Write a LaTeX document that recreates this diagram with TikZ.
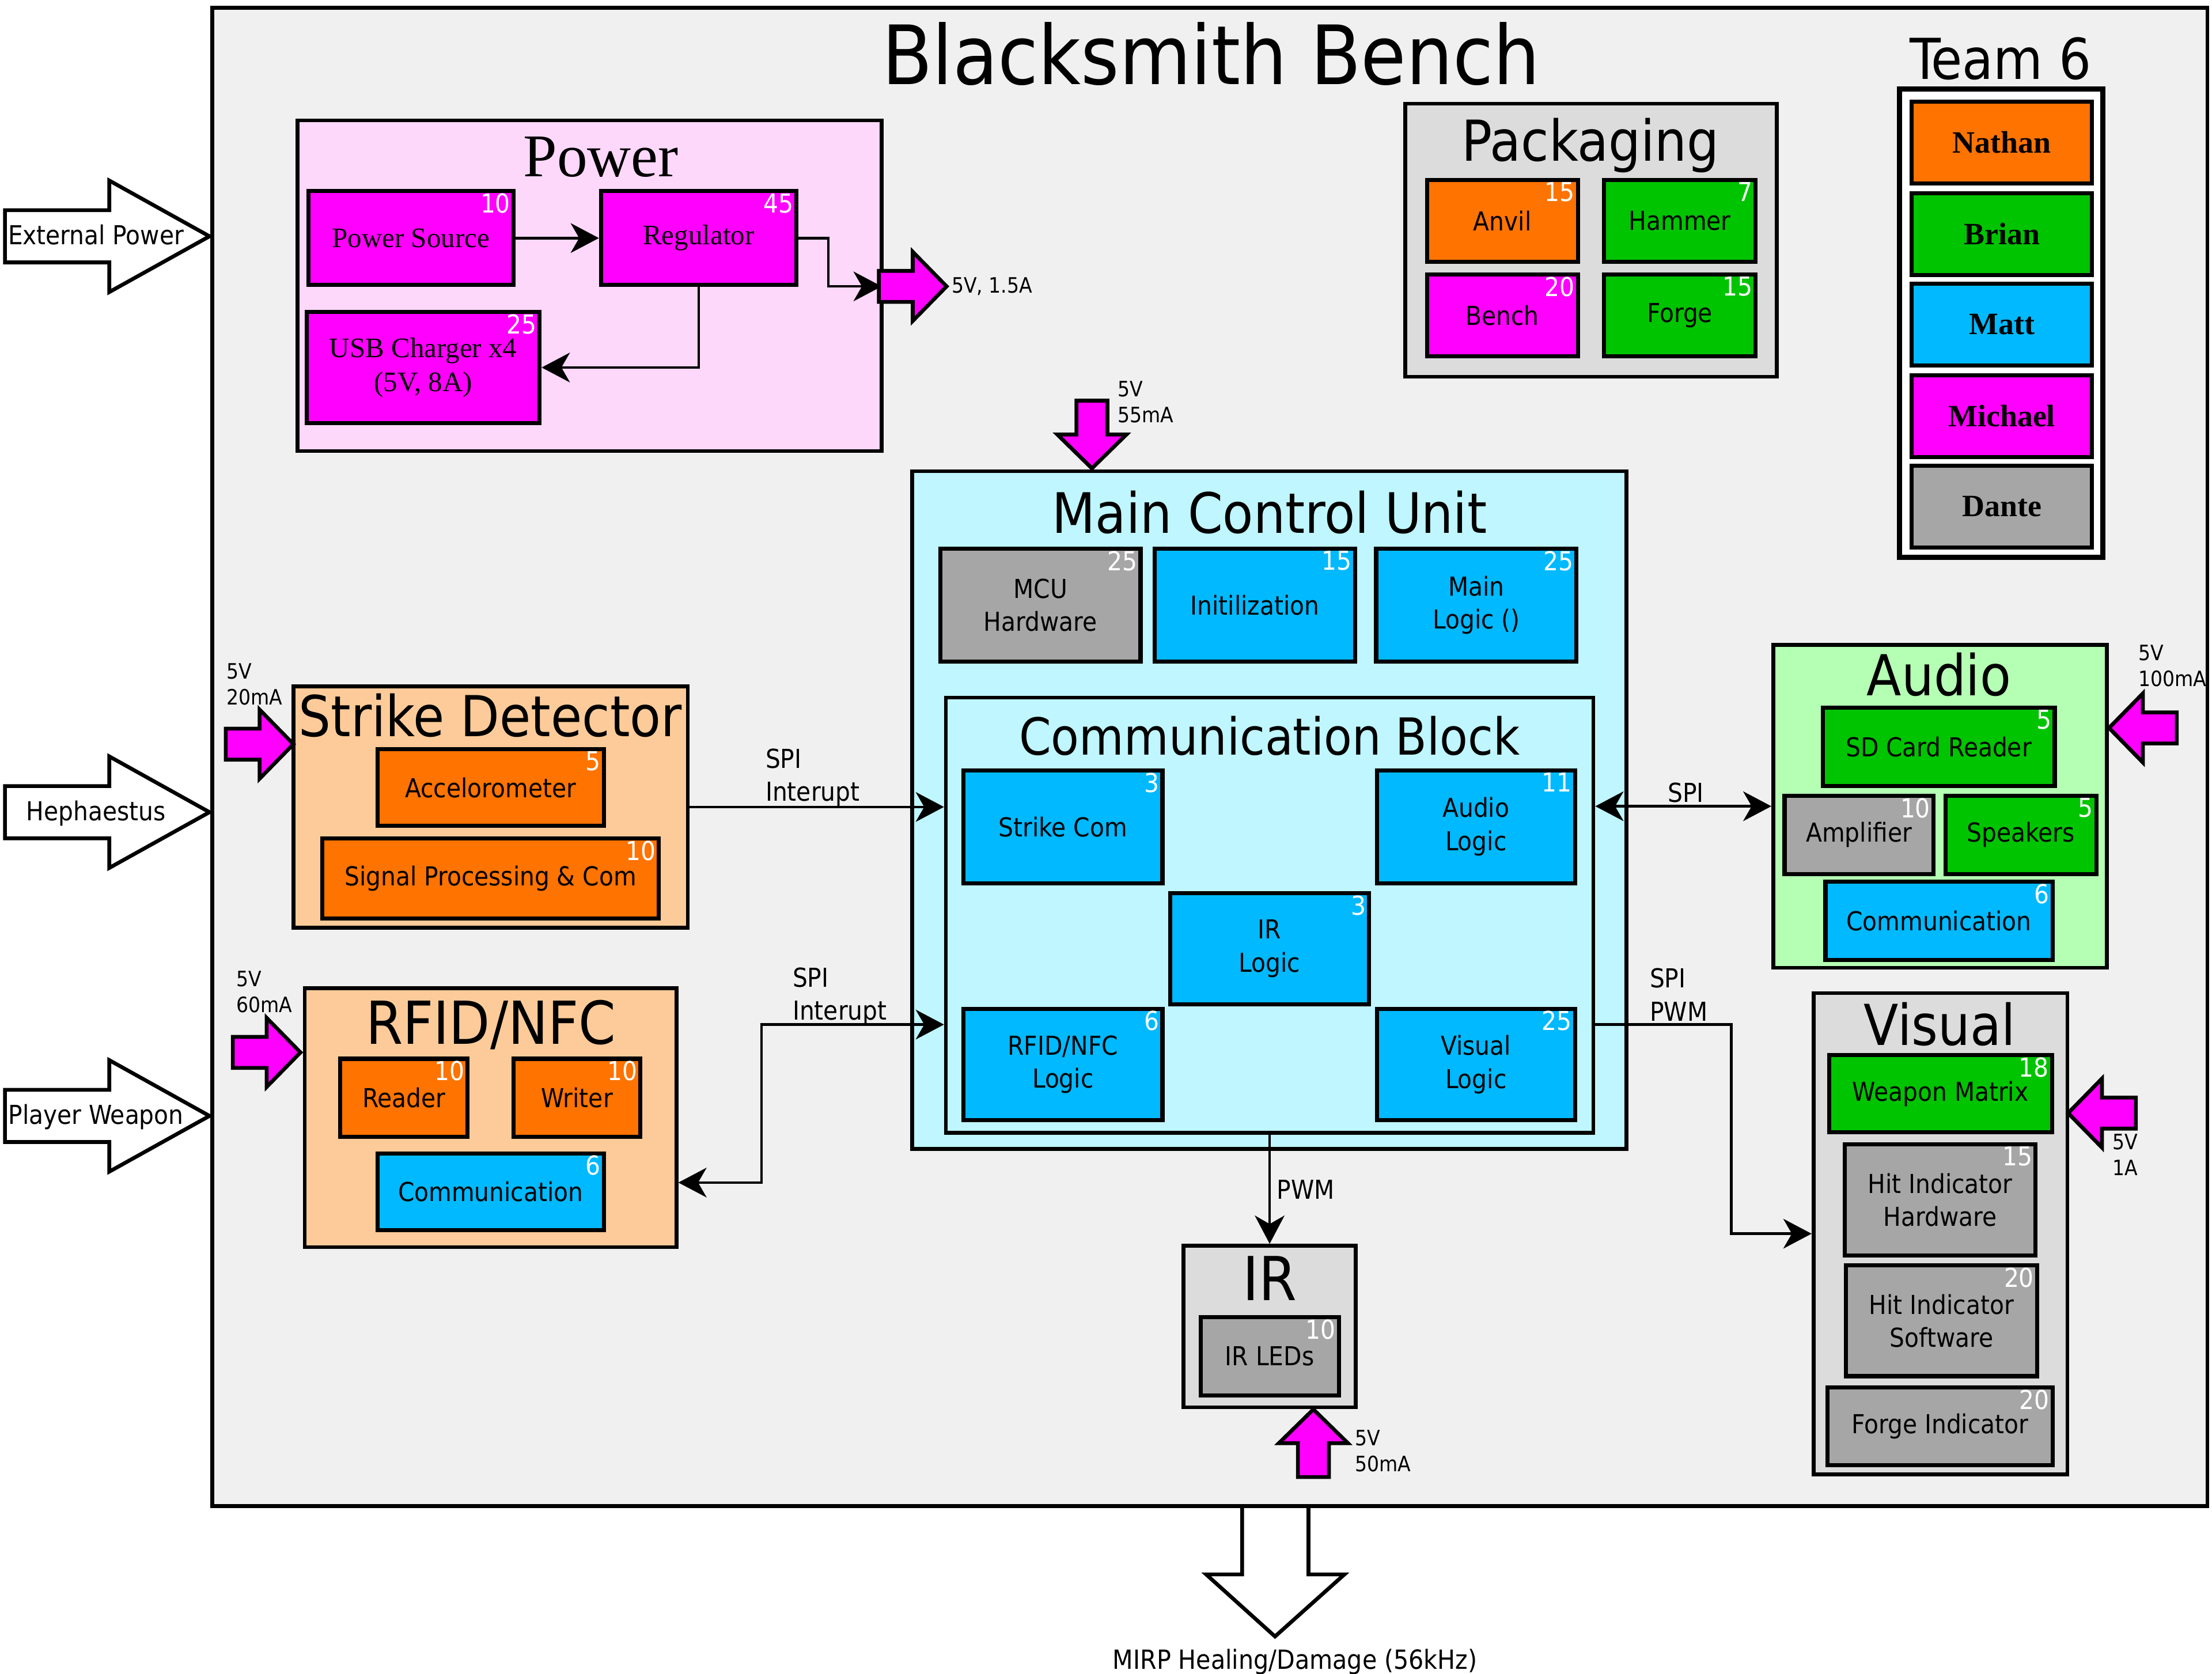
\documentclass[tikz,border=0pt]{standalone}
\usepackage{fontspec}
\setmainfont{DejaVu Sans Condensed}
\newfontfamily\romanfont{Liberation Serif}
\usetikzlibrary{arrows.meta, math}
\definecolor{bgray}{RGB}{240,240,240}
\definecolor{boxgray}{RGB}{220,220,220}
\definecolor{pwrpink}{RGB}{253,216,250}
\definecolor{peach}{RGB}{253,203,153}
\definecolor{mintgreen}{RGB}{181,255,180}
\definecolor{icecyan}{RGB}{191,246,255}
\definecolor{qmag}{RGB}{255,0,255}
\definecolor{qorange}{RGB}{255,115,0}
\definecolor{qgreen}{RGB}{0,196,0}
\definecolor{qblue}{RGB}{0,185,255}
\definecolor{qgray}{RGB}{166,166,166}

\begin{document}
\begin{tikzpicture}[x=1pt, y=-1pt,
  >={Stealth[length=20pt, width=21pt, inset=6pt]},
  span/.style args={(#1,#2)(#3,#4)}{at={({(#1+#3)/2},{(#2+#4)/2})}, minimum width={#3-#1}, minimum height={#4-#2}},
  grp/.style={draw, line width=2.7pt, inner sep=0pt},
  part/.style={draw, line width=2.9pt, inner sep=0pt, align=center, font=\fontsize{18.5}{23.5}\selectfont},
  romanpart/.style={part, font=\romanfont\fontsize{20}{24}\selectfont},
  num/.style={label={[numtxt]north east:#1}},
  numtxt/.style={anchor=north east, text=white, inner xsep=3.5pt, inner ysep=3pt, font=\fontsize{18.5}{19}\selectfont},
  ttl/.style={anchor=base, inner sep=0pt, font=\fontsize{40}{44}\selectfont},
  wire/.style={line width=1.9pt, ->},
  wlbl/.style={anchor=north west, inner sep=0pt, align=left, font=\fontsize{18.5}{23.5}\selectfont},
  rail/.style={anchor=north west, inner sep=0pt, align=left, font=\fontsize{15}{18.5}\selectfont},
  pwrarr/.style={draw, line width=2.7pt, fill=qmag},
  bigarr/.style={draw, line width=2.7pt, fill=white},
]
\tikzmath{
\hl=24;
\hw=24.5;
\sw=11;
\al=48;
}
\useasboundingbox (0,0) rectangle (1568,1186.6);
\fill[white] (0,0) rectangle (1568,1186.6);

%bench
\node[grp, fill=bgray, span={(150.4,5.4)(1564.7,1067.6)}] (bench) {};
\node[ttl, font=\fontsize{58}{60}\selectfont] (benchttl) at (858.5,60) {Blacksmith Bench};

%team
\node[grp, fill=white, line width=3.5pt, span={(1346.5,63)(1490.5,395)}] (team) {};
\node[ttl] (teamttl) at (1418,56) {Team 6};
\foreach \nm/\col/\ytop [count=\i] in {Nathan/qorange/72, Brian/qgreen/137, Matt/qblue/201, Michael/qmag/266, Dante/qgray/330}{
  \node[part, fill=\col, font=\romanfont\bfseries\fontsize{22}{24}\selectfont, span={(1355,\ytop)(1483,\ytop+58)}] (mem\i) {\nm};
}

%packaging
\node[grp, fill=boxgray, span={(996,73.5)(1259.5,267)}] (pkg) {};
\node[ttl] (pkgttl) at (1127.5,114) {Packaging};
\node[part, fill=qorange, num=15, span={(1011.5,127.5)(1118.5,185.5)}] (anvil) {Anvil};
\node[part, fill=qgreen, num=7, span={(1137,127.5)(1244.5,185.5)}] (hammer) {Hammer};
\node[part, fill=qmag, num=20, span={(1011.5,194.5)(1118.5,252.5)}] (benchpart) {Bench};
\node[part, fill=qgreen, num=15, span={(1137,194.5)(1244.5,252.5)}] (forge) {Forge};

%power
\node[grp, fill=pwrpink, span={(211,85.3)(625,319.7)}] (pwr) {};
\node[ttl, font=\romanfont\fontsize{43}{46}\selectfont] (pwrttl) at (426,125.2) {Power};
\node[romanpart, fill=qmag, num=10, span={(218.5,135.5)(364,202)}] (pwrsrc) {Power Source};
\node[romanpart, fill=qmag, num=45, span={(426,135.5)(564.5,202)}] (reg) {Regulator};
\node[romanpart, fill=qmag, num=25, span={(217.5,221)(382.5,300)}] (usb) {USB Charger x4\\(5V, 8A)};
\coordinate (pwrtap) at (625,203);

%main control unit
\node[grp, fill=icecyan, span={(646.5,334)(1153,814.5)}] (mcu) {};
\node[ttl, font=\fontsize{39.5}{42}\selectfont] (mcuttl) at (900,378) {Main Control Unit};
\node[part, fill=qgray, num=25, span={(666.5,389)(808.5,469)}] (mcuhw) {MCU\\Hardware};
\node[part, fill=qblue, num=15, span={(818.5,389)(960.5,469)}] (init) {Initilization};
\node[part, fill=qblue, num=25, span={(975.5,389)(1117.5,469)}] (mainlogic) {Main\\Logic ()};

%communication block
\node[grp, fill=icecyan, span={(670.5,494.5)(1129.5,803)}] (comm) {};
\node[ttl, font=\fontsize{36.2}{40}\selectfont] (commttl) at (900,535) {Communication Block};
\node[part, fill=qblue, num=3, span={(683,546)(824,626)}] (strikecom) {Strike Com};
\node[part, fill=qblue, num=11, span={(976,546)(1116.5,626)}] (audiologic) {Audio\\Logic};
\node[part, fill=qblue, num=3, span={(829.5,633)(970.5,712)}] (irlogic) {IR\\Logic};
\node[part, fill=qblue, num=6, span={(683,715)(824,794)}] (rfidlogic) {RFID/NFC\\Logic};
\node[part, fill=qblue, num=25, span={(976,715)(1116.5,794)}] (visuallogic) {Visual\\Logic};

%strike detector
\node[grp, fill=peach, span={(208,486.5)(487.5,657.5)}] (strike) {};
\node[ttl] (strikettl) at (347.5,522) {Strike Detector};
\node[part, fill=qorange, num=5, span={(267.5,531)(428,585.5)}] (accel) {Accelorometer};
\node[part, fill=qorange, num=10, span={(228.5,594.5)(467,651)}] (sigproc) {Signal Processing \& Com};

%rfid
\node[grp, fill=peach, span={(216,700.5)(479.5,884)}] (rfid) {};
\node[ttl, font=\fontsize{42}{44}\selectfont] (rfidttl) at (348,740) {RFID/NFC};
\node[part, fill=qorange, num=10, span={(241,750.5)(331.5,806)}] (reader) {Reader};
\node[part, fill=qorange, num=10, span={(364,750.5)(454,806)}] (writer) {Writer};
\node[part, fill=qblue, num=6, span={(267.5,817.5)(428,872)}] (rfidcom) {Communication};

%audio
\node[grp, fill=mintgreen, span={(1257,457)(1493.5,686)}] (audio) {};
\node[ttl] (audiottl) at (1374.5,493) {Audio};
\node[part, fill=qgreen, num=5, span={(1292,501.5)(1456.5,557)}] (sdcard) {SD Card Reader};
\node[part, fill=qgray, num=10, span={(1265,564)(1370.5,619.5)}] (amp) {Amplifier};
\node[part, fill=qgreen, num=5, span={(1379,564)(1486,619.5)}] (spk) {Speakers};
\node[part, fill=qblue, num=6, span={(1294,625)(1455,680.5)}] (audiocom) {Communication};

%visual
\node[grp, fill=boxgray, span={(1285.5,704)(1465.5,1045)}] (visual) {};
\node[ttl] (visualttl) at (1375,741) {Visual};
\node[part, fill=qgreen, num=18, span={(1296.5,748)(1454.5,802.5)}] (weapon) {Weapon Matrix};
\node[part, fill=qgray, num=15, span={(1307.5,811)(1443,890)}] (hithw) {Hit Indicator\\Hardware};
\node[part, fill=qgray, num=20, span={(1308.5,897)(1444,975.5)}] (hitsw) {Hit Indicator\\Software};
\node[part, fill=qgray, num=20, span={(1295.5,983.5)(1455,1038.5)}] (forgeind) {Forge Indicator};

%ir
\node[grp, fill=boxgray, span={(839,883)(961,997.5)}] (irbox) {};
\node[ttl, font=\fontsize{43}{46}\selectfont] (irttl) at (900,922) {IR};
\node[part, fill=qgray, num=10, span={(851,933.5)(949,989)}] (irleds) {IR LEDs};

%wires
\draw[wire] (pwrsrc.east) -- (reg.west);
\draw[wire] (reg.east) -- ++(21.2,0) |- (pwrtap);
\draw[wire] (reg.south) |- (usb.east);
\draw[wire] (strike.east) -- (strike.east -| comm.west);
\draw[wire, <->] ([yshift=-46pt]rfid.east) -- ++(59,0) |- ([yshift=-77.5pt]comm.west);
\draw[wire, <->] (comm.east |- audio.west) -- (audio.west);
\draw[wire] ([yshift=-77.5pt]comm.east) -- ++(96.5,0) |- (visual.west);
\draw[wire] (comm.south) -- (irbox.north);

\node[wlbl] (spistrike) at (542.5,530.5) {SPI\\Interupt};
\node[wlbl] (spirfid) at (561.7,685.6) {SPI\\Interupt};
\node[wlbl] (spivis) at (1169.3,686.2) {SPI\\PWM};
\node[wlbl, anchor=base] (spiaud) at (1195,568.4) {SPI};
\node[wlbl, anchor=base west] (pwmir) at (904.9,849.8) {PWM};

%power rails
\foreach \tx/\ty/\ang in {671/203/0, 208/527.5/0, 213/746/0, 774/332/270, 1495/516/180, 1466/789/180, 931/999/90}{
  \draw[pwrarr, shift={(\tx,\ty)}, rotate=\ang] (0,0) -- (-\hl,\hw) -- (-\hl,\sw) -- (-\al,\sw) -- (-\al,-\sw) -- (-\hl,-\sw) -- (-\hl,-\hw) -- cycle;
}
\node[rail, anchor=base west] (v15) at (674.5,207.6) {5V, 1.5A};
\node[rail] (v20) at (160.5,470) {5V\\20mA};
\node[rail] (v60) at (167.3,688) {5V\\60mA};
\node[rail] (v55) at (792,270) {5V\\55mA};
\node[rail] (v100) at (1515.7,457) {5V\\100mA};
\node[rail] (v1) at (1497.4,803.6) {5V\\1A};
\node[rail] (v50) at (960.4,1013.6) {5V\\50mA};

%inputs and output
\foreach \ty/\txt [count=\i] in {167.5/External Power, 575.7/Hephaestus, 791/Player Weapon}{
  \draw[bigarr, shift={(148.5,\ty)}] (0,0) -- (-71,39.5) -- (-71,18.5) -- (-145,18.5) -- (-145,-18.5) -- (-71,-18.5) -- (-71,-39.5) -- cycle;
  \node[anchor=base, inner sep=0pt, font=\fontsize{18.5}{20}\selectfont] (inp\i) at (68,\ty+6) {\txt};
}
\draw[bigarr] (903.8,1160) -- (953,1116) -- (927.5,1116) -- (927.5,1067.6) -- (880.5,1067.6) -- (880.5,1116) -- (855,1116) -- cycle;
\node[anchor=base, inner sep=0pt, font=\fontsize{18.7}{20}\selectfont] (mirp) at (918,1183.3) {MIRP Healing/Damage (56kHz)};

\end{tikzpicture}
\end{document}
